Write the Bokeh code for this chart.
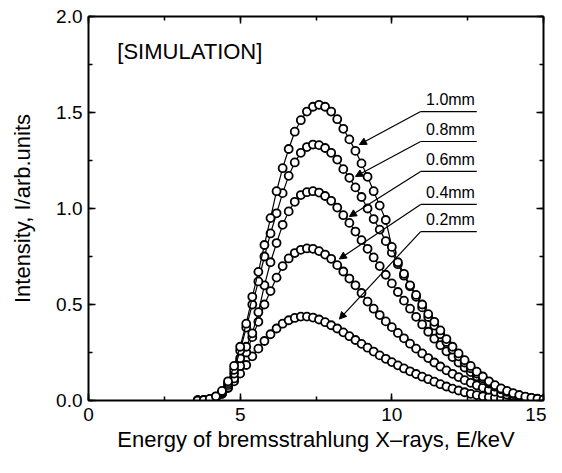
from bokeh.plotting import figure
from bokeh.models import (LinearAxis, SingleIntervalTicker, Range1d, Label, Arrow,
                          NormalHead, PrintfTickFormatter)
from bokeh.embed import file_html
from bokeh.resources import INLINE

# ---------------- data ----------------
energy = [3.6, 3.8, 4.0, 4.2, 4.4, 4.6, 4.8, 5.0, 5.2, 5.4, 5.6, 5.8, 6.0, 6.2, 6.4,
          6.6, 6.8, 7.0, 7.2, 7.4, 7.6, 7.8, 8.0, 8.2, 8.4, 8.6, 8.8, 9.0, 9.2, 9.4,
          9.6, 9.8, 10.0, 10.2, 10.4, 10.6, 10.8, 11.0, 11.2, 11.4, 11.6, 11.8, 12.0,
          12.2, 12.4, 12.6, 12.8, 13.0, 13.2, 13.4, 13.6, 13.8, 14.0, 14.2, 14.4, 14.6,
          14.8, 15.0]

int_1_0mm = [0.000, 0.002, 0.008, 0.022, 0.050, 0.100, 0.180, 0.280,
             0.400, 0.540, 0.670, 0.810, 0.950, 1.090, 1.210, 1.310,
             1.400, 1.460, 1.505, 1.530, 1.540, 1.530, 1.505, 1.465,
             1.415, 1.360, 1.300, 1.235, 1.165, 1.090, 1.015, 0.940,
             0.800, 0.720, 0.660, 0.600, 0.550, 0.500, 0.450, 0.410,
             0.365, 0.320, 0.280, 0.245, 0.210, 0.180, 0.150, 0.125,
             0.100, 0.080, 0.063, 0.050, 0.038, 0.028, 0.020, 0.014,
             0.009, 0.006]

int_0_8mm = [0.000, 0.002, 0.007, 0.020, 0.045, 0.090, 0.160, 0.260,
             0.380, 0.500, 0.620, 0.750, 0.870, 0.975, 1.080, 1.170,
             1.240, 1.290, 1.320, 1.333, 1.330, 1.315, 1.290, 1.255,
             1.205, 1.160, 1.110, 1.060, 1.000, 0.945, 0.890, 0.830,
             0.770, 0.710, 0.650, 0.595, 0.540, 0.485, 0.435, 0.390,
             0.345, 0.305, 0.265, 0.230, 0.198, 0.168, 0.140, 0.116,
             0.095, 0.076, 0.060, 0.046, 0.035, 0.026, 0.018, 0.012,
             0.008, 0.005]

int_0_6mm = [0.000, 0.002, 0.006, 0.018, 0.040, 0.080, 0.140, 0.220,
             0.280, 0.350, 0.460, 0.600, 0.720, 0.820, 0.915, 0.985,
             1.035, 1.070, 1.085, 1.090, 1.083, 1.065, 1.040, 1.005,
             0.965, 0.925, 0.880, 0.835, 0.790, 0.745, 0.700, 0.655,
             0.610, 0.565, 0.520, 0.478, 0.436, 0.396, 0.358, 0.322,
             0.288, 0.256, 0.226, 0.198, 0.172, 0.148, 0.126, 0.106,
             0.088, 0.072, 0.058, 0.046, 0.035, 0.026, 0.018, 0.012,
             0.008, 0.005]

int_0_4mm = [0.000, 0.002, 0.005, 0.015, 0.035, 0.068, 0.115, 0.180,
             0.250, 0.330, 0.410, 0.500, 0.570, 0.640, 0.700, 0.740,
             0.768, 0.785, 0.792, 0.790, 0.778, 0.760, 0.738, 0.705,
             0.672, 0.635, 0.600, 0.560, 0.515, 0.478, 0.445, 0.412,
             0.382, 0.352, 0.324, 0.296, 0.270, 0.245, 0.221, 0.198,
             0.177, 0.157, 0.139, 0.122, 0.106, 0.092, 0.079, 0.067,
             0.056, 0.046, 0.038, 0.030, 0.023, 0.017, 0.012, 0.008,
             0.005, 0.003]

int_0_2mm = [0.000, 0.002, 0.005, 0.015, 0.035, 0.065, 0.100, 0.140,
             0.185, 0.230, 0.270, 0.310, 0.345, 0.375, 0.400, 0.418,
             0.430, 0.437, 0.437, 0.432, 0.422, 0.408, 0.392, 0.375,
             0.355, 0.335, 0.315, 0.295, 0.275, 0.255, 0.235, 0.217,
             0.200, 0.183, 0.167, 0.152, 0.138, 0.124, 0.111, 0.098,
             0.085, 0.073, 0.062, 0.052, 0.043, 0.035, 0.028, 0.022,
             0.018, 0.014, 0.011, 0.009, 0.007, 0.005, 0.004, 0.003,
             0.002, 0.002]

thickness_labels = ["1.0mm", "0.8mm", "0.6mm", "0.4mm", "0.2mm"]
series = [int_1_0mm, int_0_8mm, int_0_6mm, int_0_4mm, int_0_2mm]

x_title = "Energy of bremsstrahlung X\u2013rays, E/keV"
y_title = "Intensity, I/arb.units"
panel_title = "[SIMULATION]"

# annotation layout (data units): underline height and arrow tip for each label
label_line_y = [1.505, 1.349, 1.193, 1.021, 0.880]
arrow_tip_x = [8.93, 8.80, 8.60, 8.27, 8.27]
arrow_tip_y = [1.333, 1.167, 0.958, 0.737, 0.424]
underline_x0, underline_x1 = 10.95, 12.80

FONT = "Liberation Sans"

# ---------------- figure ----------------
p = figure(width=546, height=457, x_range=Range1d(0, 15), y_range=Range1d(0, 2),
           output_backend="svg", toolbar_location=None,
           min_border_left=88, min_border_right=3, min_border_top=16, min_border_bottom=57)
p.grid.visible = False
p.outline_line_color = None
p.background_fill_color = "white"
p.border_fill_color = "white"

for ys in reversed(series):
    p.line(energy, ys, line_color="black", line_width=1.2)
    p.scatter(energy, ys, marker="circle", size=8, fill_color="white",
              line_color="black", line_width=1.8)

# axes on all four sides
def style_axis(ax, ticker):
    ax.ticker = ticker
    ax.axis_line_width = 2
    ax.axis_line_color = "black"
    ax.major_tick_in = 7
    ax.major_tick_out = 0
    ax.minor_tick_in = 4
    ax.minor_tick_out = 0
    ax.major_tick_line_width = 1.5
    ax.minor_tick_line_width = 1.5
    ax.major_tick_line_color = "black"
    ax.minor_tick_line_color = "black"
    ax.major_label_text_font = FONT
    ax.major_label_text_font_size = "19px"
    ax.major_label_text_color = "black"
    ax.axis_label_text_font = FONT
    ax.axis_label_text_font_size = "22px"
    ax.axis_label_text_font_style = "normal"
    ax.axis_label_text_color = "black"

xb = p.xaxis[0]
yl = p.yaxis[0]
style_axis(xb, SingleIntervalTicker(interval=5, num_minor_ticks=2))
style_axis(yl, SingleIntervalTicker(interval=0.5, num_minor_ticks=2))
yl.formatter = PrintfTickFormatter(format="%.1f")
xb.axis_label = x_title
yl.axis_label = y_title
xb.major_label_standoff = 7
xb.axis_label_standoff = 3
yl.major_label_standoff = 6
yl.axis_label_standoff = 18

xt = LinearAxis()
yr = LinearAxis()
style_axis(xt, SingleIntervalTicker(interval=5, num_minor_ticks=2))
style_axis(yr, SingleIntervalTicker(interval=0.5, num_minor_ticks=2))
for ax in (xt, yr):
    ax.major_label_text_font_size = "0px"
    ax.major_label_standoff = 0
p.add_layout(xt, "above")
p.add_layout(yr, "right")

# panel title
p.add_layout(Label(x=0.95, y=1.755, text=panel_title, text_font=FONT,
                   text_font_size="22px", text_color="black"))

# thickness labels with underlines and arrows
for lab, ly, tx, ty in zip(thickness_labels, label_line_y, arrow_tip_x, arrow_tip_y):
    p.segment(x0=[underline_x0], y0=[ly], x1=[underline_x1], y1=[ly],
              line_color="black", line_width=1.2)
    p.add_layout(Arrow(x_start=underline_x0, y_start=ly, x_end=tx, y_end=ty,
                       line_color="black", line_width=1.2,
                       end=NormalHead(size=7, fill_color="black", line_color="black")))
    p.add_layout(Label(x=underline_x1 - 0.06, y=ly + 0.016, text=lab, text_font=FONT,
                       text_font_size="16px", text_align="right", text_color="black"))

open("out.html", "w").write(file_html(p, INLINE))
